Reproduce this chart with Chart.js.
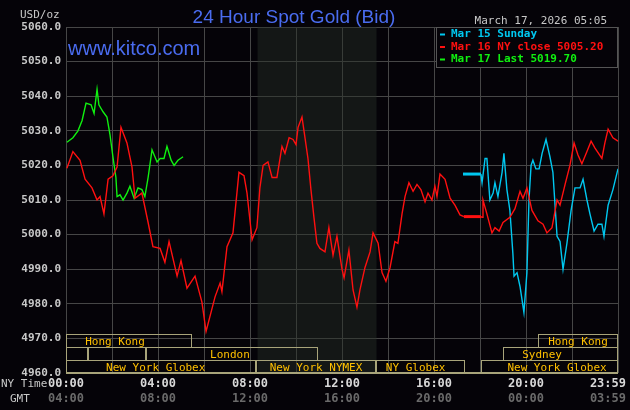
<!DOCTYPE html>
<html><head><meta charset="utf-8">
<script src="https://cdn.jsdelivr.net/npm/chart.js@4"></script>
<style>html,body{margin:0;padding:0;background:#050308;}canvas{display:block}</style>
</head><body>
<canvas id="c" width="630" height="410"></canvas>
<script>
// ---- data (x = NY time in hours, y = USD/oz) ----
const redHours = [0.04,0.30,0.61,0.83,1.13,1.35,1.48,1.65,1.83,2.04,2.22,2.39,2.65,2.87,3.00,3.30,3.57,3.78,4.09,4.30,4.48,4.83,5.00,5.26,5.61,5.91,6.09,6.48,6.70,6.78,7.00,7.26,7.52,7.74,7.87,8.09,8.30,8.43,8.57,8.78,8.96,9.17,9.39,9.52,9.70,9.87,10.00,10.09,10.26,10.39,10.52,10.65,10.78,10.91,11.04,11.26,11.43,11.61,11.78,12.00,12.09,12.30,12.48,12.65,12.78,13.00,13.22,13.35,13.57,13.74,13.91,14.09,14.30,14.43,14.61,14.74,14.91,15.09,15.26,15.43,15.61,15.74,15.91,16.04,16.13,16.26,16.48,16.70,16.91,17.13,17.30];
const redValues = [5019.2,5024,5021.5,5016,5013.5,5010,5011,5006,5016,5017,5019.5,5031,5026.5,5019.5,5010.5,5012,5003.5,4996.5,4996,4992,4998,4988,4992.5,4984.5,4988,4980.5,4972,4982,4986,4983.5,4996.5,5000.5,5018,5017,5012,4998.5,5002,5013.5,5020,5021,5016.5,5016.5,5025.5,5023.5,5028,5027.5,5026,5031,5034,5028,5022,5013,5005,4997.5,4996,4995,5002,4994,4999.5,4990,4987.5,4995.5,4984,4979,4984,4990.5,4995,5000.5,4997.5,4989,4986.5,4990.5,4998,4997.5,5006,5011,5015,5012.5,5014.5,5013,5009.5,5012,5010,5014,5011,5017.5,5016,5010.5,5008.5,5005.7,5005.2];
const redFlatHours = [17.30,18.04];
const redFlatValue = 5005.2;
const red2Hours = [18.04,18.09,18.13,18.30,18.52,18.65,18.83,19.00,19.30,19.52,19.74,19.87,20.04,20.26,20.52,20.74,20.91,21.13,21.35,21.48,21.70,21.91,22.09,22.26,22.43,22.65,22.83,23.00,23.30,23.43,23.57,23.78,24.00];
const red2Values = [5005.2,5005,5010,5006,5000.5,5002,5001,5003.5,5005,5007.5,5012.5,5010.5,5013.5,5007,5004,5003,5000.5,5002,5010,5008.5,5014.5,5020,5026.5,5023,5020.5,5024,5027,5025,5022,5026.5,5030.5,5028,5027];
const cyanFlatHours = [17.26,18.04];
const cyanFlatValue = 5017.5;
const cyanHours = [18.04,18.09,18.22,18.30,18.43,18.57,18.65,18.78,18.96,19.04,19.17,19.30,19.43,19.48,19.61,19.74,19.91,20.04,20.13,20.22,20.30,20.43,20.57,20.70,20.87,21.04,21.17,21.35,21.48,21.61,21.78,21.96,22.13,22.35,22.48,22.65,22.78,22.96,23.13,23.30,23.39,23.57,23.78,24.00];
const cyanValues = [5017.5,5015,5022,5022,5010,5012,5015,5011,5018,5023.5,5013,5007,4994.5,4988,4989,4985,4977.5,4989,5010,5020,5021.5,5019,5019,5023.5,5027.5,5022.5,5018,4999.5,4998,4990,4997.5,5007,5013.5,5013.5,5016,5010,5006,5001,5003,5003,4999.5,5008.5,5013,5019];
const greenHours = [0.04,0.30,0.52,0.70,0.87,1.09,1.22,1.35,1.43,1.61,1.78,1.91,2.04,2.17,2.22,2.35,2.48,2.65,2.78,2.96,3.13,3.30,3.43,3.57,3.74,3.96,4.09,4.26,4.39,4.57,4.70,4.87,5.09];
const greenValues = [5026.7,5028,5030,5033,5038,5037.5,5035,5042,5037.5,5035.5,5034,5029,5022.5,5016.5,5011,5011.5,5010,5012,5014,5010.5,5013.5,5013,5011,5016.5,5024.5,5021,5022,5022,5025.5,5021.5,5020,5021.5,5022.5];
const yTicks = [4960,4970,4980,4990,5000,5010,5020,5030,5040,5050,5060];
const nyTimeLabels = ["00:00","04:00","08:00","12:00","16:00","20:00","23:59"];
const gmtTimeLabels = ["04:00","08:00","12:00","16:00","20:00","00:00","03:59"];
const timeLabelHours = [0,4,8,12,16,20,24];
const legendLabels = ["Mar 15 Sunday","Mar 16 NY close 5005.20","Mar 17 Last 5019.70"];
const nymexShade = [8.33,13.5];
// sessions: label, row, start hour, end hour, label hour
const sessionNames = ["Hong Kong","","","London","New York Globex","New York NYMEX","NY Globex","New York Globex","Hong Kong","Sydney"];
const sessionRows  = [0,1,1,1,2,2,2,2,0,1];
const sessionStart = [0,0,0.96,3.48,0,8.26,13.48,18.04,20.52,19.0];
const sessionEnd   = [5.48,0.96,3.48,10.96,8.26,13.48,17.35,24,24,24];
const sessionLabelAt=[2.13,0,0,7.13,3.9,10.87,15.2,21.35,22.26,20.7];

const pts=(h,v)=>h.map((x,i)=>({x,y:v[i]}));
const RED='#ff1010', CYAN='#00c8f0', GREEN='#10f010';
const MONO='"DejaVu Sans Mono", monospace';

const decor = {
  id:'decor',
  beforeDatasetsDraw(ch){
    const {ctx,chartArea:a,scales:{x}}=ch;
    ctx.save();
    ctx.fillStyle='rgba(40,48,40,0.45)';
    ctx.fillRect(x.getPixelForValue(nymexShade[0]),a.top,x.getPixelForValue(nymexShade[1])-x.getPixelForValue(nymexShade[0]),a.bottom-a.top);
    ctx.restore();
  },
  afterDatasetsDraw(ch){
    const {ctx,chartArea:a,scales:{x}}=ch;
    ctx.save();
    const rh=13;
    ctx.font='11px '+MONO; ctx.textAlign='center'; ctx.textBaseline='middle';
    sessionNames.forEach((n,i)=>{
      const x0=Math.round(x.getPixelForValue(sessionStart[i]))+0.5, x1=Math.round(x.getPixelForValue(sessionEnd[i]))-0.5;
      const y0=a.bottom-rh*(3-sessionRows[i])+0.5;
      ctx.strokeStyle='#a8a47a'; ctx.lineWidth=1;
      ctx.strokeRect(x0,y0,x1-x0,rh);
      if(n){ctx.fillStyle='#ffc000'; ctx.fillText(n,x.getPixelForValue(sessionLabelAt[i]),y0+rh/2+1);}
    });
    ctx.fillStyle='#a8a47a'; ctx.fillRect(a.left,a.bottom-1,a.right-a.left,2);
    const lx=436, ly=a.top, lw=a.right-lx, lh=40;
    ctx.fillStyle='#050308'; ctx.fillRect(lx,ly,lw,lh);
    ctx.strokeStyle='#555'; ctx.strokeRect(lx+0.5,ly+0.5,lw-1,lh);
    const cols=[CYAN,RED,GREEN];
    ctx.font='bold 11px '+MONO; ctx.textAlign='left'; ctx.textBaseline='middle';
    legendLabels.forEach((t,i)=>{
      const yy=ly+7.5+i*12.5;
      ctx.fillStyle=cols[i]; ctx.fillRect(lx+4,yy-1,5,2);
      ctx.fillText(t,lx+15,yy);
    });
    ctx.fillStyle='#4a6cf0'; ctx.font='19px "Liberation Sans", Arial, sans-serif'; ctx.textAlign='center'; ctx.textBaseline='alphabetic';
    ctx.fillText('24 Hour Spot Gold (Bid)',294,23);
    ctx.font='20px "Liberation Sans", Arial, sans-serif'; ctx.textAlign='left';
    ctx.fillText('www.kitco.com',68,55);
    ctx.fillStyle='#c8c8c8'; ctx.font='11px '+MONO;
    ctx.fillText('USD/oz',20,18);
    ctx.textAlign='right'; ctx.fillText('March 17, 2026 05:05',607,24);
    ctx.textAlign='left'; ctx.fillText('NY Time',1,387); ctx.fillText('GMT',10,402);
    ctx.font='bold 12px '+MONO;
    timeLabelHours.forEach((h,i)=>{
      let px=x.getPixelForValue(h); ctx.textAlign='center';
      if(i===timeLabelHours.length-1){ctx.textAlign='right'; px=626;}
      ctx.fillStyle='#d8d8d8'; ctx.fillText(nyTimeLabels[i],px,387);
      ctx.fillStyle='#6a6a6a'; ctx.fillText(gmtTimeLabels[i],px,402);
    });
    ctx.restore();
  }
};

new Chart(document.getElementById('c'),{
  type:'line',
  data:{datasets:[
    {data:pts(redHours,redValues),borderColor:RED,borderWidth:1.4},
    {data:pts(redFlatHours,redFlatHours.map(()=>redFlatValue)),borderColor:RED,borderWidth:3},
    {data:pts(red2Hours,red2Values),borderColor:RED,borderWidth:1.4},
    {data:pts(cyanFlatHours,cyanFlatHours.map(()=>cyanFlatValue)),borderColor:CYAN,borderWidth:3},
    {data:pts(cyanHours,cyanValues),borderColor:CYAN,borderWidth:1.4},
    {data:pts(greenHours,greenValues),borderColor:GREEN,borderWidth:1.4}
  ]},
  options:{
    responsive:false,animation:false,devicePixelRatio:1,
    elements:{point:{radius:0},line:{tension:0}},
    layout:{padding:{top:27,bottom:37,left:0,right:12}},
    plugins:{legend:{display:false},tooltip:{enabled:false}},
    scales:{
      x:{type:'linear',min:0,max:24,ticks:{stepSize:2,display:false},
         grid:{color:'#464646',drawTicks:false},border:{display:false},
         afterFit:s=>{s.height=0;}},
      y:{min:4960,max:5060,afterBuildTicks:s=>{s.ticks=yTicks.map(v=>({value:v}));},
         ticks:{callback:v=>v.toFixed(1),color:'#c8c8c8',font:{family:'DejaVu Sans Mono',size:11,weight:'bold'},padding:5},
         grid:{color:'#464646',drawTicks:false},border:{color:'#464646'},
         afterFit:s=>{s.width=66;}}
    }
  },
  plugins:[decor]
});
</script>
</body></html>
